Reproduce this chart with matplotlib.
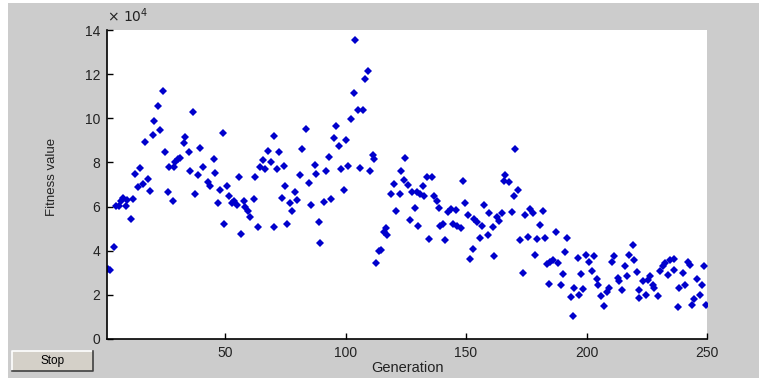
import matplotlib
matplotlib.use("Agg")
import matplotlib.pyplot as plt
import numpy as np
from matplotlib.patches import Rectangle
from matplotlib.lines import Line2D
from matplotlib.ticker import FuncFormatter

# generation, fitness (in units of 1e4)
generation = [
    1.4, 2.4, 3.9, 4.6, 6.0, 6.7, 7.8, 8.7, 9.4, 10.8, 11.9, 12.6, 14.0, 14.7, 16.1,
    16.7, 18.1, 18.8, 20.2, 20.7, 22.0, 22.9, 24.3, 24.9, 26.2, 26.7, 28.2, 28.7, 29.4,
    30.4, 31.2, 32.8, 33.3, 34.9, 35.6, 36.8, 37.5, 38.9, 39.6, 40.8,
    43.0, 43.8, 45.2, 45.9, 47.0, 47.8, 49.2, 49.7, 51.0, 51.8, 52.9, 53.5, 55.1, 55.9,
    56.6, 57.9, 58.3, 59.5, 60.4, 61.8, 62.5, 63.8, 64.5, 65.9, 66.6, 68.0, 68.9, 70.1,
    70.5, 71.6, 72.4, 73.7, 74.4, 74.9, 75.8, 76.9, 77.6, 79.0, 80.0, 80.9, 82.0, 83.7,
    85.0, 85.7, 87.2, 87.8, 88.9, 89.6, 91.0, 91.9, 93.1, 93.8, 95.1, 95.9, 97.2, 98.1,
    99.3, 100.2, 101.2, 102.1, 103.3, 104.0, 105.0, 106.1, 107.3, 108.2, 109.4, 110.3,
    111.5, 112.0, 112.6, 114.0, 114.9, 116.0, 116.7, 117.4, 118.9, 120.2, 121.0, 122.4,
    123.0, 124.3, 124.8,
    125.9, 126.6, 127.4, 128.7, 129.8, 129.9, 130.9, 132.0, 132.7, 133.7, 134.5, 136.0,
    136.7, 138.1, 138.6, 139.3, 140.6, 141.4, 142.4, 143.6, 144.7, 145.7, 146.4, 147.8,
    148.9, 149.5, 150.8, 151.7, 152.9, 153.5, 154.7, 155.7, 156.8, 157.5, 159.0, 159.7,
    161.0, 161.5, 162.8, 163.7, 165.1, 165.8, 166.2,
    167.8, 169.0, 170.1, 170.4, 171.7, 172.4, 173.8, 174.4, 175.7, 176.5, 177.9, 178.5,
    179.6, 180.7, 181.9, 182.6, 183.8, 184.5, 184.9, 185.9, 187.3, 188.0, 189.4, 190.1,
    191.1, 192.1, 193.5, 194.2, 194.6, 196.3, 196.7, 197.9, 198.6, 199.9, 200.9, 202.2,
    202.9, 204.2, 204.9, 206.0, 207.4,
    208.6, 209.3, 210.7, 211.4, 213.1, 213.5, 214.9, 215.9, 217.0, 217.7, 219.1, 219.8,
    220.9, 221.6, 221.9, 223.5, 224.7, 225.4, 226.5, 227.5, 228.2, 229.5, 230.5, 231.6,
    232.7, 233.7, 234.8, 236.1, 236.5, 237.9, 238.2, 240.0, 240.7, 242.1, 242.8, 243.8,
    244.6, 246.0, 247.0, 248.1, 248.8, 249.5,
]
fitness = [
    3.17, 3.12, 4.18, 6.03, 6.03, 6.23, 6.41, 6.03, 6.30, 5.44, 6.35, 7.48, 6.90, 7.77, 7.03,
    8.94, 7.25, 6.71, 9.26, 9.86, 10.57, 9.46, 11.25, 8.49, 6.64, 7.81, 6.26, 7.81, 8.04,
    8.14, 8.22, 8.87, 9.17, 8.45, 7.63, 10.27, 6.58, 7.45, 8.67, 7.81,
    7.13, 6.91, 8.14, 7.54, 6.14, 6.73, 9.35, 5.23, 6.91, 6.50, 6.14, 6.26, 6.08, 7.36,
    4.77, 6.26, 6.00, 5.81, 5.55, 6.36, 7.36, 5.08, 7.78, 8.11, 7.72, 8.54, 8.04, 5.08,
    9.22, 7.72, 8.49, 6.41, 7.86, 6.91, 5.23, 6.18, 5.81, 6.68, 6.29, 7.41, 8.63, 9.53,
    7.09, 6.05, 7.90, 7.48, 5.28, 4.33, 6.21, 7.63, 8.24, 6.35, 9.09, 9.67, 8.76, 7.69,
    6.77, 9.00, 7.86, 9.95, 11.16, 13.53, 10.36, 7.77, 10.36, 11.76, 12.13, 7.63,
    8.33, 8.14, 3.45, 3.97, 4.01, 4.83, 5.01, 4.69, 6.59, 7.03, 5.81, 6.55,
    7.63, 7.22, 8.22,
    7.00, 5.40, 6.64, 5.94, 6.64, 5.10, 6.59, 6.91, 6.46, 7.32, 4.54, 7.32,
    6.46, 6.27, 5.94, 5.13, 5.19, 4.49, 5.75, 5.88, 5.19, 5.85, 5.10, 5.01,
    7.18, 6.18, 5.61, 3.63, 4.09, 5.43, 5.28, 4.59, 5.14, 6.05, 4.69, 5.69,
    5.08, 3.77, 5.55, 5.35, 5.69, 7.16, 7.41,
    7.13, 5.75, 6.46, 8.60, 6.73, 4.49, 3.00, 5.64, 4.62, 5.90, 5.69, 3.82,
    4.54, 5.17, 5.81, 4.59, 3.41, 2.50, 3.51, 3.59, 4.83, 3.44, 2.46, 2.96,
    3.92, 4.59, 1.89, 1.03, 2.32, 3.67, 2.01, 2.96, 2.28, 3.82, 3.47, 3.06,
    3.77, 2.73, 2.46, 1.93, 1.48,
    2.11, 2.31, 3.51, 3.77, 2.76, 2.61, 2.20, 3.32, 2.84, 3.82, 4.27, 3.59,
    3.02, 1.86, 2.23, 2.65, 2.01, 2.68, 2.87, 2.46, 2.31, 1.93, 3.06, 3.29,
    3.44, 2.91, 3.56, 3.11, 3.62, 1.43, 2.31, 2.99, 2.46, 3.47, 3.36, 1.55,
    1.81, 2.71, 2.01, 2.46, 3.29, 1.55,
]
y_ticks = [0, 2, 4, 6, 8, 10, 12, 14]
x_ticks = [50, 100, 150, 200, 250]

W, H = 759, 381
fig = plt.figure(figsize=(W / 100, H / 100), dpi=100)
fig.patch.set_facecolor("white")
plt.rcParams["font.family"] = ["Liberation Sans", "DejaVu Sans"]

# grey figure window area
fig.patches.append(Rectangle((8 / W, 3 / H), 751 / W, 375 / H, transform=fig.transFigure,
                             facecolor="#cccccc", edgecolor="none", zorder=-5))

ax = fig.add_axes([107 / W, (H - 339) / H, 600 / W, 309 / H])
ax.set_facecolor("white")
ax.plot(generation, np.array(fitness) * 1e4, linestyle="none", marker="D",
        markersize=4.4, color="#0000cc", markeredgewidth=0)

ax.set_xlim(1, 250)
ax.set_ylim(0, 14e4)
ax.set_xticks(x_ticks)
ax.set_yticks([v * 1e4 for v in y_ticks])
ax.yaxis.set_major_formatter(FuncFormatter(lambda v, p: "%d" % round(v / 1e4)))
ax.tick_params(direction="in", length=4, width=1, colors="black",
               labelsize=10, labelcolor="#222222", pad=5)
for s in ["top", "right"]:
    ax.spines[s].set_visible(False)
for s in ["left", "bottom"]:
    ax.spines[s].set_linewidth(1.2)

ax.set_xlabel("Generation", fontsize=10.5, color="#222222", labelpad=1)
ax.set_ylabel("Fitness value", fontsize=9.5, color="#222222", va="center")
ax.yaxis.set_label_coords(-0.092, 0.525)
ax.text(0.0, 1.015, r"$\times\ 10^{4}$", transform=ax.transAxes, fontsize=10,
        color="#222222", ha="left", va="bottom")

# Stop button
bx, by, bw, bh = 12 / W, (H - 371) / H, 81 / W, 20 / H
fig.patches.append(Rectangle((bx, by), bw, bh, transform=fig.transFigure,
                             facecolor="#d4d0c8", edgecolor="none"))
fig.lines.append(Line2D([bx, bx, bx + bw], [by, by + bh, by + bh],
                        transform=fig.transFigure, color="white", lw=1.2))
fig.lines.append(Line2D([bx, bx + bw, bx + bw], [by, by, by + bh],
                        transform=fig.transFigure, color="#404040", lw=1.2))
fig.text(bx + bw / 2, by + bh / 2, "Stop", fontsize=8.5, ha="center", va="center",
         color="black")

fig.savefig("out.png", dpi=100)
